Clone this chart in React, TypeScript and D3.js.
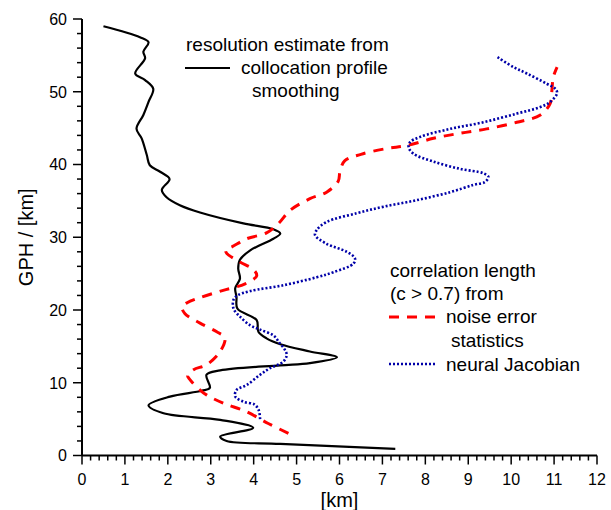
import React from 'react';
import * as d3 from 'd3';

// resolution estimate from collocation profile smoothing  [km, GPH km]
const smoothingX = [0.5, 1.35, 1.55, 1.43, 1.47, 1.24, 1.47, 1.66, 1.55, 1.43, 1.27, 1.39, 1.51, 1.58, 1.82, 2.04, 1.86, 1.97, 2.28, 2.75, 3.76, 4.46, 4.62, 4.46, 3.92, 3.68, 3.64, 3.68, 3.57, 3.6, 3.62, 4.07, 4.11, 4.3, 4.62, 5.31, 5.94, 5.31, 4.62, 3.22, 2.9, 2.98, 2.79, 2.05, 1.55, 1.9, 3.22, 3.99, 3.22, 3.37, 4.62, 7.3];
const smoothingY = [59.0, 57.5, 56.8, 55.5, 54.6, 52.5, 51.6, 50.4, 48.6, 46.8, 44.9, 43.6, 41.3, 39.9, 39.0, 38.0, 36.5, 35.5, 34.4, 33.4, 31.9, 31.1, 30.5, 29.8, 28.2, 26.9, 25.7, 24.3, 23.0, 21.8, 20.2, 18.6, 17.0, 16.1, 15.3, 14.3, 13.5, 12.7, 12.4, 11.7, 11.1, 9.3, 8.9, 8.1, 6.9, 5.8, 4.9, 3.8, 2.6, 2.0, 1.6, 0.9];

// correlation length from noise error statistics
const noiseX = [4.81, 4.34, 3.84, 3.29, 2.91, 2.75, 2.52, 2.46, 2.6, 2.91, 3.22, 3.33, 3.14, 2.75, 2.4, 2.33, 2.45, 2.75, 3.29, 3.8, 4.07, 3.99, 3.68, 3.37, 3.35, 3.5, 3.84, 4.3, 4.58, 4.85, 5.31, 5.7, 5.97, 6.01, 6.12, 6.5, 7.1, 7.57, 8.19, 8.81, 9.43, 10.13, 10.68, 10.91, 10.95, 10.98, 11.07];
const noiseY = [3.05, 4.4, 6.0, 7.2, 8.3, 9.0, 10.4, 11.0, 11.8, 12.5, 14.3, 16.2, 17.0, 18.2, 19.5, 20.4, 21.0, 21.7, 22.7, 23.6, 24.7, 25.6, 26.6, 27.8, 28.3, 28.7, 29.8, 30.6, 31.9, 33.7, 35.3, 36.2, 37.7, 39.0, 40.5, 41.4, 42.2, 42.6, 43.6, 44.3, 44.9, 45.8, 46.8, 48.4, 50.2, 52.0, 53.4];

// correlation length from neural Jacobian
const jacobianX = [4.15, 4.12, 4.02, 3.76, 3.57, 3.6, 3.84, 4.15, 4.38, 4.69, 4.77, 4.73, 4.6, 4.46, 4.15, 3.92, 3.68, 3.53, 3.53, 3.62, 3.92, 4.69, 5.47, 5.86, 6.33, 6.36, 6.17, 5.7, 5.43, 5.47, 5.7, 6.4, 7.03, 7.8, 8.58, 9.12, 9.39, 9.47, 9.35, 8.81, 8.19, 7.72, 7.61, 7.65, 7.88, 8.58, 9.35, 10.13, 10.68, 10.91, 11.07, 11.03, 10.83, 10.37, 10.05, 9.67];
const jacobianY = [5.0, 6.2, 7.0, 7.4, 8.1, 9.0, 9.7, 11.1, 12.0, 12.9, 13.8, 14.5, 15.5, 16.5, 17.3, 17.9, 19.1, 20.2, 21.4, 22.0, 22.6, 23.4, 24.5, 25.2, 26.4, 27.1, 28.0, 29.1, 30.3, 31.0, 32.1, 33.3, 34.2, 35.1, 36.2, 37.2, 37.6, 38.3, 38.8, 39.4, 40.4, 41.5, 42.4, 43.1, 43.8, 44.9, 45.8, 47.0, 47.9, 48.6, 49.8, 50.4, 51.1, 52.5, 53.4, 54.8];

const xTicks = d3.range(0, 13);
const yTicks = [0, 10, 20, 30, 40, 50, 60];

const W = 611;
const H = 510;
const left = 82, right = 597, top = 19, bottom = 455.5;
const font = 'Liberation Sans, Arial, sans-serif';

export default function App() {
  const x = d3.scaleLinear().domain([0, 12]).range([left, right]);
  const y = d3.scaleLinear().domain([0, 60]).range([bottom, top]);

  const line = d3.line<[number, number]>()
    .x(d => x(d[0]))
    .y(d => y(d[1]))
    .curve(d3.curveCatmullRom.alpha(0.5));

  const zip = (a: number[], b: number[]) => a.map((v, i) => [v, b[i]] as [number, number]);

  const xMinor = d3.range(0, 12.001, 0.2);
  const yMinor = d3.range(0, 60.001, 2);

  return (
    <svg width={W} height={H} style={{ position: 'absolute', left: 0, top: 0, background: '#fff' }} fontFamily={font}>
      {/* series */}
      <path d={line(zip(smoothingX, smoothingY)) || ''} fill="none" stroke="#000" strokeWidth={2.2} />
      <path d={line(zip(noiseX, noiseY)) || ''} fill="none" stroke="#ff0000" strokeWidth={3} strokeDasharray="10,8" />
      <path d={line(zip(jacobianX, jacobianY)) || ''} fill="none" stroke="#0000a8" strokeWidth={2.6} strokeDasharray="2,2" />

      {/* axes */}
      <line x1={left} x2={left} y1={top} y2={bottom} stroke="#000" strokeWidth={2} />
      <line x1={left} x2={right} y1={bottom} y2={bottom} stroke="#000" strokeWidth={2} />
      {yMinor.map(t => (
        <line key={'ym' + t} x1={left} x2={left - (t % 10 === 0 ? 9 : 5)} y1={y(t)} y2={y(t)} stroke="#000" strokeWidth={1.5} />
      ))}
      {xMinor.map(t => (
        <line key={'xm' + t} x1={x(t)} x2={x(t)} y1={bottom} y2={bottom + (Math.abs(t - Math.round(t)) < 1e-6 ? 9 : 5)} stroke="#000" strokeWidth={1.5} />
      ))}
      {yTicks.map(t => (
        <text key={'yt' + t} x={left - 15} y={y(t) + 5.8} textAnchor="end" fontSize={16}>{t}</text>
      ))}
      {xTicks.map(t => (
        <text key={'xt' + t} x={x(t)} y={485} textAnchor="middle" fontSize={16}>{t}</text>
      ))}
      <text transform={`translate(${33},${(top + bottom) / 2}) rotate(-90)`} textAnchor="middle" fontSize={20}>GPH / [km]</text>
      <text x={(left + right) / 2} y={507} textAnchor="middle" fontSize={20}>[km]</text>

      {/* legend 1 */}
      <text x={186} y={51} fontSize={19}>resolution estimate from</text>
      <line x1={185} x2={230} y1={68} y2={68} stroke="#000" strokeWidth={2.2} />
      <text x={241} y={74} fontSize={19}>collocation profile</text>
      <text x={252} y={97} fontSize={19}>smoothing</text>

      {/* legend 2 */}
      <text x={390} y={277} fontSize={19}>correlation length</text>
      <text x={390} y={300} fontSize={19}>(c &gt; 0.7) from</text>
      <line x1={389} x2={436} y1={317} y2={317} stroke="#ff0000" strokeWidth={3} strokeDasharray="10,8" />
      <text x={446} y={323} fontSize={19}>noise error</text>
      <text x={451} y={347} fontSize={19}>statistics</text>
      <line x1={389} x2={436} y1={364} y2={364} stroke="#0000a8" strokeWidth={2.6} strokeDasharray="2,2" />
      <text x={446} y={371} fontSize={19}>neural Jacobian</text>
    </svg>
  );
}
